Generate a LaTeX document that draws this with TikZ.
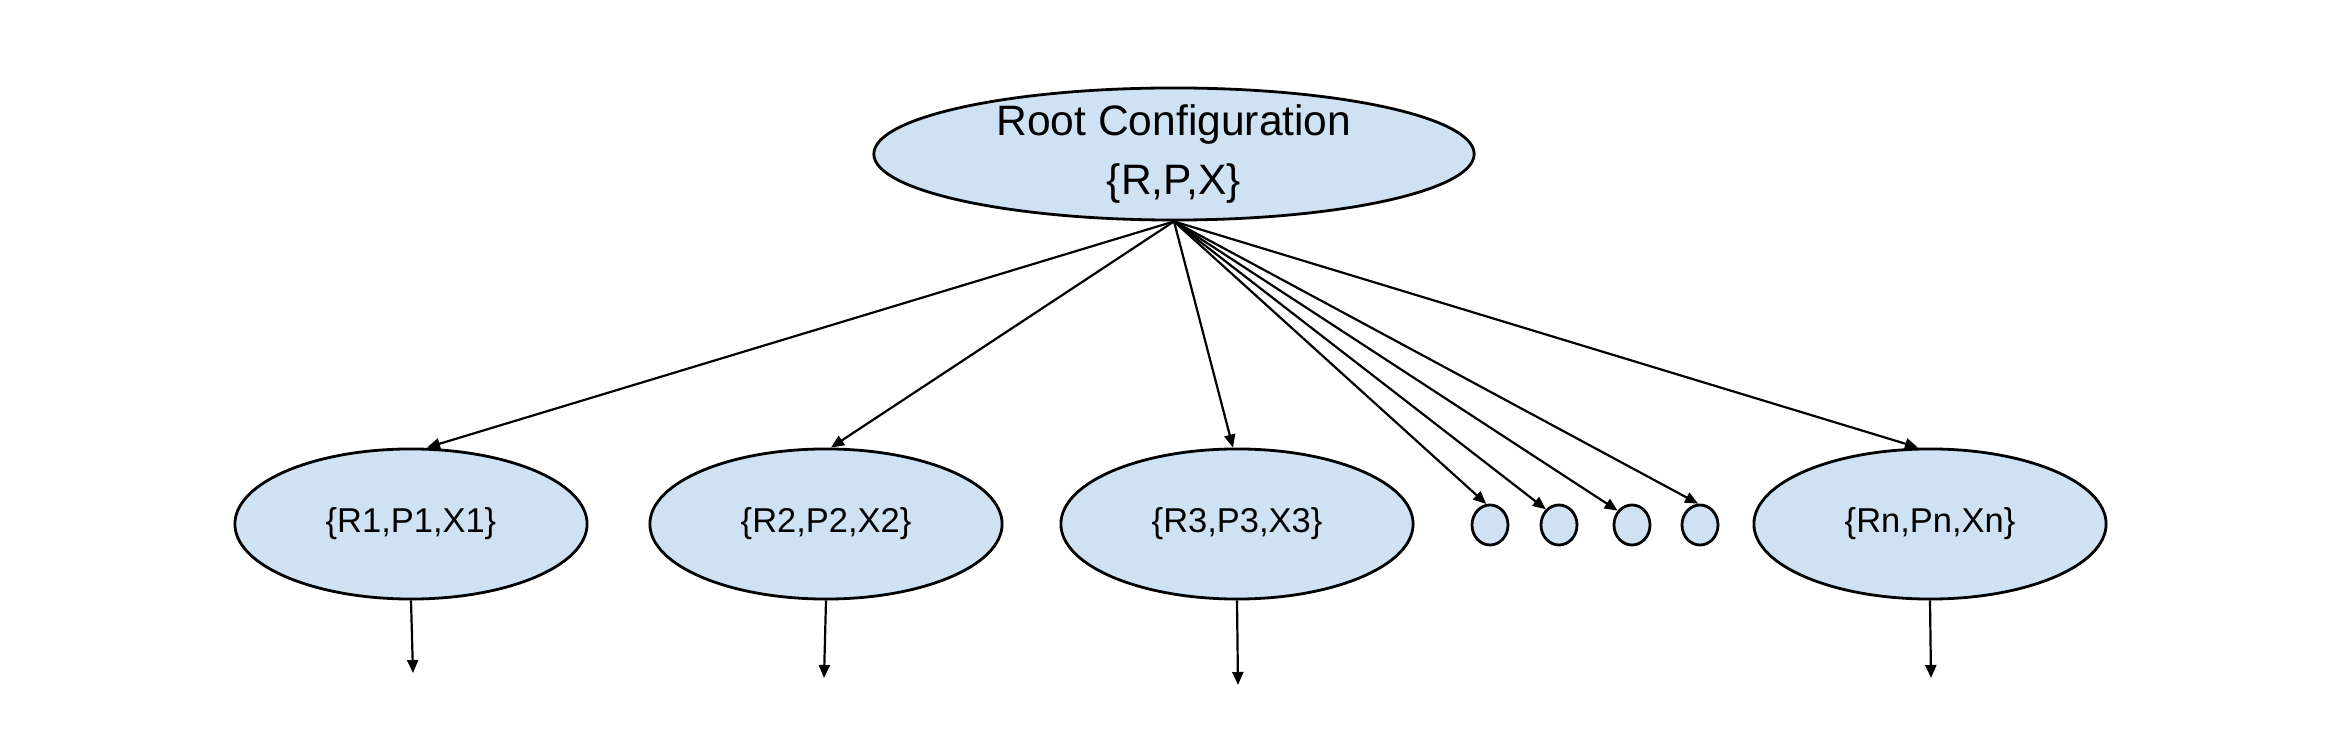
\documentclass[tikz,border=0pt]{standalone}
\usepackage{fontspec}
\setmainfont{Liberation Sans}
\usetikzlibrary{shapes.geometric,arrows.meta}
\definecolor{nodefill}{HTML}{CFE2F3}
\begin{document}
\begin{tikzpicture}[x=0.01cm,y=-0.01cm,
  bubble/.style={ellipse,draw=black,fill=nodefill,line width=0.028cm,inner sep=0pt},
  rootnode/.style={bubble,minimum width=6cm,minimum height=1.32cm,align=center,inner ysep=-0.06cm,font=\fontsize{12.1pt}{17pt}\selectfont},
  childnode/.style={bubble,minimum width=3.52cm,minimum height=1.5cm,font=\fontsize{9.8pt}{12pt}\selectfont},
  dotnode/.style={bubble,minimum width=0.36cm,minimum height=0.4cm},
  link/.style={-{Triangle[length=0.13cm,width=0.11cm]},line width=0.022cm}
]
\useasboundingbox (0,0) rectangle (2344,743);
\node[rootnode] (root) at (1174,154) {Root Configuration\\\{R,P,X\}};
\node[childnode] (e1) at (411,524) {\{R1,P1,X1\}};
\node[childnode] (e2) at (826,524) {\{R2,P2,X2\}};
\node[childnode] (e3) at (1237,524) {\{R3,P3,X3\}};
\node[dotnode] (c1) at (1490,525) {};
\node[dotnode] (c2) at (1559,525) {};
\node[dotnode] (c3) at (1632,525) {};
\node[dotnode] (c4) at (1700,525) {};
\node[childnode] (en) at (1930,524) {\{Rn,Pn,Xn\}};
\draw[link] (root.south) -- ([xshift=0.16cm]e1.north);
\draw[link] (root.south) -- ([xshift=0.05cm]e2.north);
\draw[link] (root.south) -- ([xshift=-0.04cm]e3.north);
\draw[link] (root.south) -- (c1.100);
\draw[link] (root.south) -- (c2.130);
\draw[link] (root.south) -- (c3.135);
\draw[link] (root.south) -- (c4.95);
\draw[link] (root.south) -- ([xshift=-0.12cm]en.north);
\coordinate (d1) at (413,673);
\coordinate (d2) at (824,678);
\coordinate (d3) at (1238,685);
\coordinate (dn) at (1931,678);
\draw[link] (e1.south) -- (d1);
\draw[link] (e2.south) -- (d2);
\draw[link] (e3.south) -- (d3);
\draw[link] (en.south) -- (dn);
\end{tikzpicture}
\end{document}
